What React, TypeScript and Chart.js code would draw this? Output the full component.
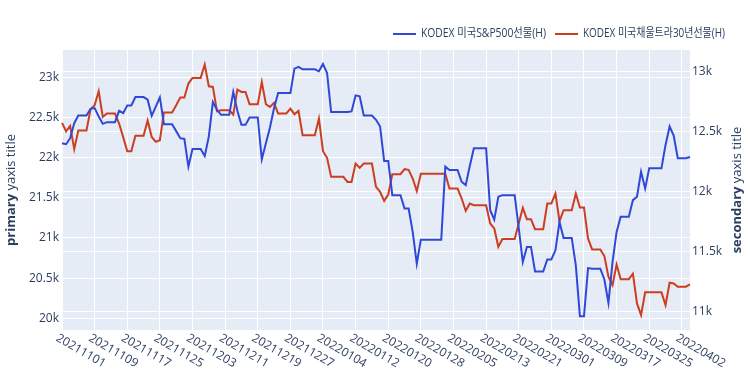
import React, { useEffect, useRef } from "react";
import { Chart, registerables } from "chart.js";

Chart.register(...registerables);

// ---------- data ----------
const START_DATE = "2021-11-01";
const DAY_COUNT = 155;
const TICK_EVERY = 8;

function buildDates(): string[] {
  const out: string[] = [];
  const [y, m, d] = START_DATE.split("-").map(Number);
  const base = Date.UTC(y, m - 1, d);
  for (let i = 0; i < DAY_COUNT; i++) {
    const dt = new Date(base + i * 86400000);
    const s =
      dt.getUTCFullYear().toString() +
      String(dt.getUTCMonth() + 1).padStart(2, "0") +
      String(dt.getUTCDate()).padStart(2, "0");
    out.push(s);
  }
  return out;
}
const dates = buildDates();

const seriesNames = ["KODEX 미국S&P500선물(H)", "KODEX 미국채울트라30년선물(H)"];

const sp500 = [
  22179, 22167, 22242, 22429, 22525, 22525, 22525, 22608, 22617, 22512,
  22421, 22442, 22442, 22442, 22583, 22554, 22650, 22650, 22754, 22754,
  22754, 22721, 22521, 22635, 22750, 22417, 22417, 22417, 22330, 22242,
  22233, 21887, 22108, 22108, 22108, 22021, 22262, 22692, 22596, 22533,
  22533, 22533, 22817, 22583, 22408, 22408, 22500, 22500, 22500, 21979,
  22179, 22375, 22617, 22804, 22804, 22804, 22804, 23108, 23129, 23100,
  23100, 23100, 23100, 23075, 23167, 23054, 22567, 22567, 22567, 22567,
  22567, 22575, 22775, 22763, 22525, 22525, 22525, 22471, 22388, 21958,
  21958, 21533, 21533, 21533, 21367, 21367, 21075, 20679, 20979, 20979,
  20979, 20979, 20979, 20979, 21888, 21846, 21846, 21846, 21700, 21658,
  21896, 22117, 22117, 22117, 22117, 21346, 21229, 21513, 21533, 21533,
  21533, 21533, 21125, 20700, 20888, 20888, 20583, 20583, 20583, 20733,
  20733, 20846, 21200, 21000, 21000, 21000, 20658, 20025, 20025, 20625,
  20617, 20617, 20617, 20483, 20192, 20700, 21075, 21263, 21263, 21263,
  21471, 21513, 21825, 21617, 21867, 21867, 21867, 21867, 22158, 22388,
  22275, 21992, 21992, 21992, 22008,
];

const ultra30 = [
  12571, 12501, 12546, 12352, 12507, 12507, 12507, 12684, 12717, 12834,
  12620, 12648, 12648, 12648, 12565, 12452, 12335, 12335, 12463, 12463,
  12463, 12590, 12454, 12413, 12427, 12657, 12657, 12657, 12717, 12781,
  12781, 12898, 12945, 12945, 12945, 13055, 12875, 12870, 12668, 12676,
  12676, 12676, 12640, 12848, 12828, 12828, 12726, 12726, 12726, 12911,
  12726, 12704, 12737, 12648, 12648, 12648, 12690, 12643, 12670, 12468,
  12468, 12468, 12468, 12607, 12335, 12280, 12122, 12122, 12122, 12122,
  12080, 12080, 12233, 12197, 12233, 12233, 12233, 12039, 11997, 11922,
  11975, 12144, 12144, 12144, 12186, 12180, 12108, 12003, 12147, 12147,
  12147, 12147, 12147, 12147, 12147, 12025, 12025, 12025, 11942, 11839,
  11900, 11886, 11886, 11886, 11886, 11734, 11693, 11540, 11604, 11604,
  11604, 11604, 11734, 11864, 11770, 11770, 11687, 11687, 11687, 11900,
  11900, 11983, 11753, 11845, 11845, 11845, 11983, 11867, 11867, 11609,
  11518, 11518, 11518, 11463, 11291, 11222, 11393, 11271, 11271, 11271,
  11316, 11069, 10972, 11161, 11161, 11161, 11161, 11161, 11055, 11241,
  11235, 11208, 11208, 11208, 11227,
];

const leftTicks = [20000, 20500, 21000, 21500, 22000, 22500, 23000];
const rightTicks = [11000, 11500, 12000, 12500, 13000];
const LEFT_MIN = 19854;
const LEFT_MAX = 23340;
const RIGHT_MIN = 10848;
const RIGHT_MAX = 13177;

// ---------- style ----------
const BLUE = "#3048d8";
const RED = "#cd3d20";
const TEXT = "#2a3f5f";
const PLOT_BG = "#E5ECF6";
const FONT_FAMILY = '"Open Sans", "Noto Sans CJK KR", sans-serif';

const fmtK = (v: number) => `${v / 1000}k`;

const decorPlugin = {
  id: "decor",
  beforeDraw(chart: any) {
    const { ctx, chartArea: a } = chart;
    ctx.save();
    ctx.fillStyle = PLOT_BG;
    ctx.fillRect(a.left, a.top, a.right - a.left, a.bottom - a.top);
    ctx.restore();
  },
  afterDraw(chart: any) {
    const { ctx, chartArea: a } = chart;
    const xs = chart.scales.x;
    // rotated x tick labels (Plotly style)
    ctx.save();
    ctx.font = `12px ${FONT_FAMILY}`;
    ctx.fillStyle = TEXT;
    ctx.textAlign = "left";
    ctx.textBaseline = "top";
    for (const t of xs.ticks) {
      const px = xs.getPixelForValue(t.value);
      ctx.save();
      ctx.translate(px - 2, a.bottom + 2);
      ctx.rotate((30 * Math.PI) / 180);
      ctx.fillText(dates[t.value], 0, 0);
      ctx.restore();
    }
    ctx.restore();

    // legend
    ctx.save();
    ctx.font = `12px ${FONT_FAMILY}`;
    ctx.textBaseline = "middle";
    ctx.textAlign = "left";
    const ly = 34;
    const items = [
      { x0: 393, color: BLUE, name: seriesNames[0], textW: 125 },
      { x0: 555, color: RED, name: seriesNames[1], textW: 142 },
    ];
    for (const it of items) {
      ctx.strokeStyle = it.color;
      ctx.lineWidth = 2;
      ctx.beginPath();
      ctx.moveTo(it.x0, ly);
      ctx.lineTo(it.x0 + 23, ly);
      ctx.stroke();
      ctx.fillStyle = TEXT;
      const w = ctx.measureText(it.name).width;
      ctx.save();
      ctx.translate(it.x0 + 28, ly);
      ctx.scale(Math.min(1, it.textW / w), 1);
      ctx.fillText(it.name, 0, 0);
      ctx.restore();
    }
    ctx.restore();

    // axis titles
    const drawTitle = (cx: number, cy: number, bold: string, rest: string) => {
      ctx.save();
      const fs = 13;
      ctx.translate(cx, cy);
      ctx.rotate(-Math.PI / 2);
      ctx.fillStyle = TEXT;
      ctx.textBaseline = "middle";
      ctx.textAlign = "left";
      ctx.font = `bold ${fs}px ${FONT_FAMILY}`;
      const w1 = ctx.measureText(bold).width;
      ctx.font = `${fs}px ${FONT_FAMILY}`;
      const w2 = ctx.measureText(rest).width;
      const start = -(w1 + w2) / 2;
      ctx.font = `bold ${fs}px ${FONT_FAMILY}`;
      ctx.fillText(bold, start, 0);
      ctx.font = `${fs}px ${FONT_FAMILY}`;
      ctx.fillText(rest, start + w1, 0);
      ctx.restore();
    };
    const midY = (a.top + a.bottom) / 2;
    drawTitle(11, midY, "primary", " yaxis title");
    drawTitle(737, midY, "secondary", " yaxis title");
  },
};

export default function App() {
  const ref = useRef<HTMLCanvasElement | null>(null);

  useEffect(() => {
    if (!ref.current) return;
    const tickFont = { family: FONT_FAMILY, size: 12 };
    const chart = new Chart(ref.current, {
      type: "line",
      data: {
        labels: dates,
        datasets: [
          {
            label: seriesNames[0],
            data: sp500,
            borderColor: BLUE,
            backgroundColor: BLUE,
            borderWidth: 2,
            pointRadius: 0,
            tension: 0,
            yAxisID: "y",
          },
          {
            label: seriesNames[1],
            data: ultra30,
            borderColor: RED,
            backgroundColor: RED,
            borderWidth: 2,
            pointRadius: 0,
            tension: 0,
            yAxisID: "y1",
          },
        ],
      },
      options: {
        responsive: false,
        animation: false,
        events: [],
        layout: { padding: { top: 50, left: 0, right: 0, bottom: 0 } },
        plugins: {
          legend: { display: false },
          tooltip: { enabled: false },
          title: { display: false },
        },
        scales: {
          x: {
            type: "category",
            offset: false,
            grid: { color: "#ffffff", lineWidth: 1, drawTicks: false },
            border: { display: false },
            ticks: { display: false, autoSkip: false },
            afterBuildTicks: (scale: any) => {
              scale.ticks = scale.ticks.filter((t: any) => t.value % TICK_EVERY === 0);
            },
            afterFit: (scale: any) => {
              scale.height = 42;
            },
          },
          y: {
            type: "linear",
            position: "left",
            min: LEFT_MIN,
            max: LEFT_MAX,
            grid: { color: "#ffffff", lineWidth: 1, drawTicks: false },
            border: { display: false },
            ticks: {
              padding: 3,
              color: TEXT,
              font: tickFont,
              callback: (v: any) => fmtK(Number(v)),
            },
            afterBuildTicks: (scale: any) => {
              scale.ticks = leftTicks.map((v) => ({ value: v }));
            },
            afterFit: (scale: any) => {
              scale.width = 62;
            },
          },
          y1: {
            type: "linear",
            position: "right",
            min: RIGHT_MIN,
            max: RIGHT_MAX,
            grid: { color: "#ffffff", lineWidth: 1, drawTicks: false },
            border: { display: false },
            ticks: {
              padding: 2,
              color: TEXT,
              font: tickFont,
              callback: (v: any) => fmtK(Number(v)),
            },
            afterBuildTicks: (scale: any) => {
              scale.ticks = rightTicks.map((v) => ({ value: v }));
            },
            afterFit: (scale: any) => {
              scale.width = 60;
            },
          },
        },
      } as any,
      plugins: [decorPlugin],
    });
    return () => chart.destroy();
  }, []);

  return (
    <div style={{ position: "fixed", left: 0, top: 0, width: 750, height: 372, background: "#ffffff" }}>
      <canvas ref={ref} width={750} height={372} style={{ display: "block" }} />
    </div>
  );
}
